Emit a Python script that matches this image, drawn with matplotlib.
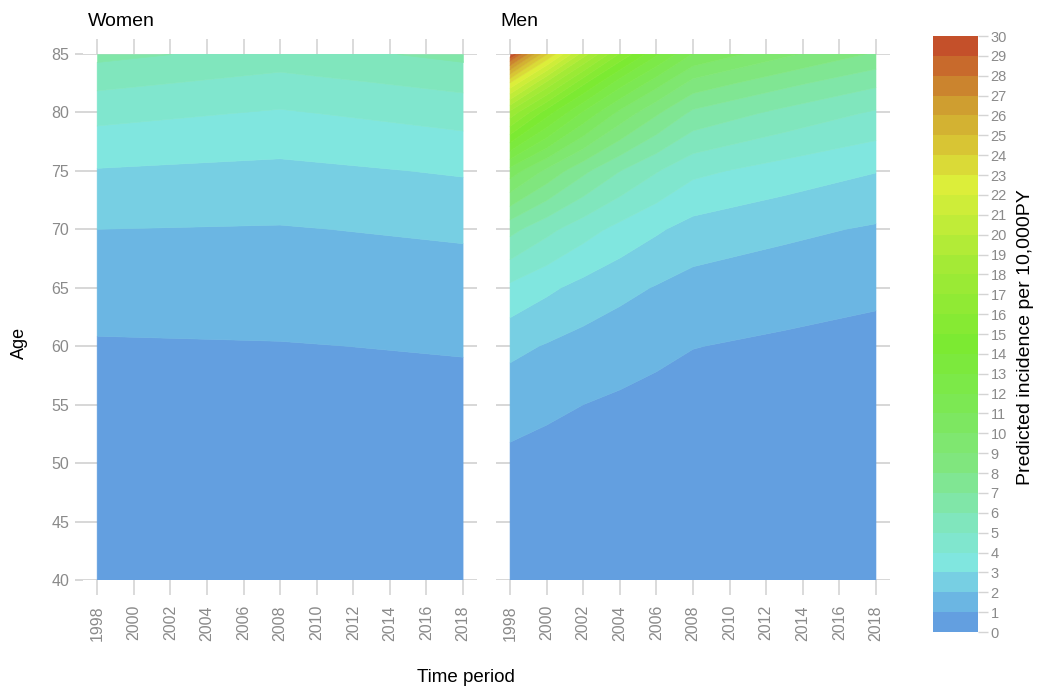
import numpy as np
import matplotlib
matplotlib.use("Agg")
import matplotlib.pyplot as plt
from matplotlib.colors import LinearSegmentedColormap, BoundaryNorm

plt.rcParams['font.family'] = ['Liberation Sans', 'DejaVu Sans']

# predicted incidence per 10,000 PY
ages = [40, 45, 50, 55, 60, 65, 70, 75, 80, 82.5, 85]

women_years = [1998, 2008, 2018]
women_1998 = [0.198, 0.292, 0.429, 0.630, 0.926, 1.36, 2.00, 2.94, 4.32, 5.24, 6.30]
women_2008 = [0.238, 0.338, 0.480, 0.680, 0.966, 1.37, 1.94, 2.76, 3.92, 4.66, 5.56]
women_2018 = [0.253, 0.362, 0.518, 0.741, 1.06, 1.51, 2.16, 3.10, 4.42, 5.29, 6.25]

men_years = [1998, 2000, 2002, 2004, 2006, 2008, 2013, 2018]
men_1998 = [0.288, 0.481, 0.806, 1.35, 2.26, 3.78, 6.32, 10.58, 17.7, 22.9, 29.7]
men_2000 = [0.256, 0.424, 0.702, 1.16, 1.93, 3.20, 5.29, 8.77, 14.5, 18.7, 24.1]
men_2002 = [0.226, 0.372, 0.610, 1.00, 1.64, 2.69, 4.42, 7.24, 11.9, 15.2, 19.5]
men_2004 = [0.202, 0.328, 0.532, 0.865, 1.40, 2.28, 3.70, 6.02, 9.77, 12.45, 15.9]
men_2006 = [0.176, 0.284, 0.459, 0.742, 1.20, 1.94, 3.13, 5.07, 8.18, 10.4, 13.2]
men_2008 = [0.152, 0.245, 0.394, 0.634, 1.02, 1.64, 2.64, 4.24, 6.81, 8.64, 10.96]
men_2013 = [0.128, 0.207, 0.332, 0.534, 0.859, 1.38, 2.22, 3.57, 5.74, 7.28, 9.23]
men_2018 = [0.109, 0.176, 0.283, 0.455, 0.731, 1.175, 1.89, 3.04, 4.89, 6.20, 7.86]

levels = list(range(0, 31))
year_ticks = list(range(1998, 2019, 2))
age_ticks = list(range(40, 86, 5))

women = np.array([women_1998, women_2008, women_2018]).T
men = np.array([men_1998, men_2000, men_2002, men_2004,
                men_2006, men_2008, men_2013, men_2018]).T

# colour scale: blue -> cyan -> green -> yellow -> red
anchors = [
    (0 / 29, '#639fe0'),
    (1 / 29, '#6bb6e3'),
    (2 / 29, '#77cfe3'),
    (3 / 29, '#80e6df'),
    (5 / 29, '#80e6bd'),
    (8 / 29, '#80e67e'),
    (11 / 29, '#7ce853'),
    (14 / 29, '#7cea32'),
    (18 / 29, '#a4ea36'),
    (22 / 29, '#dcee3a'),
    (24 / 29, '#d8c534'),
    (26 / 29, '#cf9e30'),
    (29 / 29, '#c4502a'),
]
cmap = LinearSegmentedColormap.from_list('inc', anchors, N=30)
norm = BoundaryNorm(levels, cmap.N)

grey = '#8a8a8a'
gridc = '#d4d4d4'

fig = plt.figure(figsize=(10.38, 6.86), dpi=100)
ax_w = fig.add_axes([0.080, 0.1545, 0.3797, 0.7668])
ax_m = fig.add_axes([0.4778, 0.1545, 0.3797, 0.7668])
cax = fig.add_axes([0.8988, 0.0787, 0.0434, 0.8688])

for ax, yrs, z, title in [(ax_w, women_years, women, 'Women'),
                          (ax_m, men_years, men, 'Men')]:
    cs = ax.contourf(yrs, ages, z, levels=levels, cmap=cmap, norm=norm,
                     antialiased=True)
    cs.set_edgecolor('face')
    cs.set_linewidth(0.4)
    ax.set_xlim(1997.23, 2018.77)
    ax.set_ylim(40, 85)
    ax.set_axisbelow(True)
    ax.grid(axis='y', color=gridc, linewidth=1.3)
    for s in ax.spines.values():
        s.set_visible(False)
    ax.set_xticks(year_ticks)
    ax.set_xticklabels([str(y) for y in year_ticks], rotation=90)
    ax.set_yticks(age_ticks)
    ax.tick_params(axis='x', top=True, bottom=True, direction='out',
                   length=11, width=1.2, color=gridc, labelcolor=grey,
                   labelsize=11.5, pad=7)
    ax.text(0.012, 1.046, title, transform=ax.transAxes, fontsize=14,
            ha='left', va='bottom', color='black')

ax_w.tick_params(axis='y', direction='out', length=6, width=1.3,
                 color=gridc, labelcolor=grey, labelsize=11.5, pad=4)
ax_m.tick_params(axis='y', left=False, labelleft=False)

cb = fig.colorbar(cs, cax=cax, ticks=levels)
cb.outline.set_visible(False)
cax.tick_params(direction='out', length=7, width=1.0, color=gridc,
                labelcolor=grey, labelsize=10.5, pad=2)

fig.text(0.019, 0.5, 'Age', rotation=90, ha='center', va='center', fontsize=13)
fig.text(0.449, 0.013, 'Time period', ha='center', va='center', fontsize=13.5)
fig.text(0.9884, 0.509, 'Predicted incidence per 10,000PY', rotation=90,
         ha='center', va='center', fontsize=14)

fig.savefig('out.png', dpi=100)
